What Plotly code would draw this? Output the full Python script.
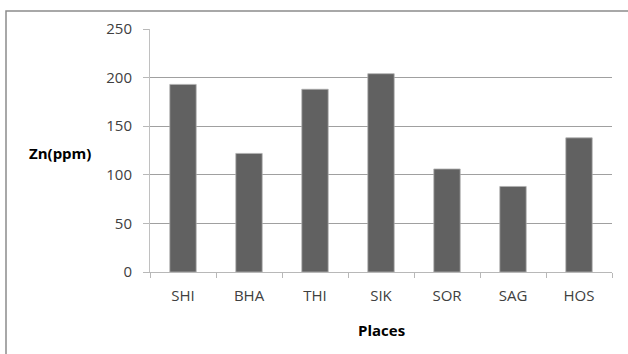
import plotly.graph_objects as go

# Zinc concentration by sampling place
places = ["SHI", "BHA", "THI", "SIK", "SOR", "SAG", "HOS"]
zn_ppm = [193, 122, 188, 204, 106, 88, 138]
y_ticks = [0, 50, 100, 150, 200, 250]

W, H = 628, 354
M_L, M_R, M_T, M_B = 150, 16, 29, 82
PW, PH = W - M_L - M_R, H - M_T - M_B


def px_x(x):
    return (x - M_L) / PW


def px_y(y):
    return (H - M_B - y) / PH


fig = go.Figure(
    go.Bar(
        x=places,
        y=zn_ppm,
        marker=dict(color="#616161", line=dict(color="#b0b0b0", width=0.8)),
    )
)

font_family = "Open Sans, Liberation Sans, sans-serif"

fig.update_layout(
    width=W,
    height=H,
    margin=dict(l=M_L, r=M_R, t=M_T, b=M_B),
    paper_bgcolor="white",
    plot_bgcolor="white",
    bargap=0.6,
    showlegend=False,
    font=dict(family=font_family, size=15, color="#404040"),
    xaxis=dict(
        type="category",
        tickson="boundaries",
        ticks="outside",
        ticklen=5,
        tickcolor="#b8b8b8",
        showline=True,
        linecolor="#b8b8b8",
        linewidth=1,
        showgrid=False,
        ticklabelstandoff=10,
        tickfont=dict(size=15, color="#404040"),
    ),
    yaxis=dict(
        range=[0, 250],
        tickvals=y_ticks,
        ticks="outside",
        ticklen=6,
        tickcolor="#b8b8b8",
        showline=True,
        linecolor="#c0c0c0",
        linewidth=1,
        showgrid=True,
        gridcolor="#a0a0a0",
        gridwidth=1,
        zeroline=False,
        ticklabelstandoff=8,
        tickfont=dict(size=15, color="#404040"),
    ),
    annotations=[
        dict(
            text="<b>Zn(ppm)</b>",
            xref="paper", yref="paper",
            x=px_x(27), y=px_y(153),
            xanchor="left", yanchor="middle",
            showarrow=False,
            font=dict(size=15, color="black", family=font_family),
        ),
        dict(
            text="<b>Places</b>",
            xref="paper", yref="paper",
            x=0.5, y=px_y(330),
            xanchor="center", yanchor="middle",
            showarrow=False,
            font=dict(size=15, color="black", family=font_family),
        ),
    ],
    shapes=[
        dict(
            type="rect",
            xref="paper", yref="paper",
            x0=px_x(6), x1=px_x(W + 10),
            y0=px_y(H + 10), y1=px_y(11),
            line=dict(color="#8c8c8c", width=1.5),
            fillcolor="rgba(0,0,0,0)",
            layer="below",
        )
    ],
)

fig.write_html("out.html")
